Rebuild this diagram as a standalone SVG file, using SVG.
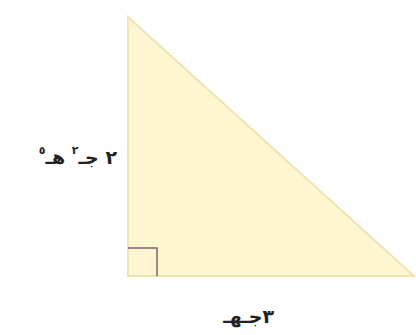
<svg xmlns="http://www.w3.org/2000/svg" width="416" height="335" viewBox="0 0 416 335">
<style>
.lbl{font-family:"DejaVu Sans","Noto Sans",sans-serif;font-weight:bold;font-size:19px;fill:#222}
.sup{font-size:11px}
</style>
<rect width="416" height="335" fill="#ffffff"/>
<g id="triangle">
<polygon points="128,17 128,276 414,276" fill="#fef6d0" stroke="#efe3b0" stroke-width="2"/>
</g>
<g id="right-angle">
<polyline points="128,248 157,248 157,276" fill="none" stroke="#8a5a70" stroke-width="1.5"/>
</g>
<g id="label-left">
<text class="lbl" x="117" y="164" direction="rtl" text-anchor="start">٢ جـ<tspan class="sup" dy="-10">٢</tspan><tspan dy="10"> هـ</tspan><tspan class="sup" dy="-10">٥</tspan></text>
</g>
<g id="label-bottom">
<text class="lbl" x="274" y="323" direction="rtl" text-anchor="start">٣جـهـ</text>
</g>
</svg>
